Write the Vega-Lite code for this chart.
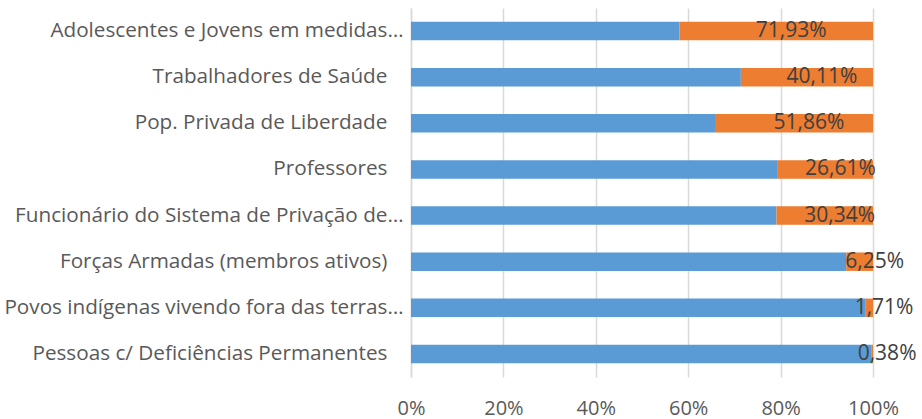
{
  "$schema": "https://vega.github.io/schema/vega-lite/v6.json",
  "width": 462,
  "height": 369,
  "autosize": {"type": "none"},
  "padding": {"left": 411, "top": 8, "right": 49, "bottom": 42},
  "background": "white",
  "config": {"view": {"stroke": null}, "font": "Open Sans"},
  "data": {"values": [
    {"grupo": "Adolescentes e Jovens em medidas…", "serie": "azul", "valor": 58.1, "rotulo": ""},
    {"grupo": "Adolescentes e Jovens em medidas…", "serie": "laranja", "valor": 41.9, "rotulo": "71,93%"},
    {"grupo": "Trabalhadores de Saúde\u00a0\u00a0\u00a0\u200b", "serie": "azul", "valor": 71.4, "rotulo": ""},
    {"grupo": "Trabalhadores de Saúde\u00a0\u00a0\u00a0\u200b", "serie": "laranja", "valor": 28.6, "rotulo": "40,11%"},
    {"grupo": "Pop. Privada de Liberdade\u00a0\u00a0\u00a0\u200b", "serie": "azul", "valor": 65.8, "rotulo": ""},
    {"grupo": "Pop. Privada de Liberdade\u00a0\u00a0\u00a0\u200b", "serie": "laranja", "valor": 34.2, "rotulo": "51,86%"},
    {"grupo": "Professores\u00a0\u00a0\u00a0\u200b", "serie": "azul", "valor": 79.4, "rotulo": ""},
    {"grupo": "Professores\u00a0\u00a0\u00a0\u200b", "serie": "laranja", "valor": 20.6, "rotulo": "26,61%"},
    {"grupo": "Funcionário do Sistema de Privação de…", "serie": "azul", "valor": 79.1, "rotulo": ""},
    {"grupo": "Funcionário do Sistema de Privação de…", "serie": "laranja", "valor": 20.9, "rotulo": "30,34%"},
    {"grupo": "Forças Armadas (membros ativos)\u00a0\u00a0\u00a0\u200b", "serie": "azul", "valor": 94.2, "rotulo": ""},
    {"grupo": "Forças Armadas (membros ativos)\u00a0\u00a0\u00a0\u200b", "serie": "laranja", "valor": 5.8, "rotulo": "6,25%"},
    {"grupo": "Povos indígenas vivendo fora das terras…", "serie": "azul", "valor": 98.3, "rotulo": ""},
    {"grupo": "Povos indígenas vivendo fora das terras…", "serie": "laranja", "valor": 1.7, "rotulo": "1,71%"},
    {"grupo": "Pessoas c/ Deficiências Permanentes\u00a0\u00a0\u00a0\u200b", "serie": "azul", "valor": 99.6, "rotulo": ""},
    {"grupo": "Pessoas c/ Deficiências Permanentes\u00a0\u00a0\u00a0\u200b", "serie": "laranja", "valor": 0.4, "rotulo": "0,38%"}
  ]},
  "transform": [
    {"stack": "valor", "groupby": ["grupo"], "sort": [{"field": "serie", "order": "ascending"}], "as": ["x0", "x1"]}
  ],
  "encoding": {
    "y": {
      "field": "grupo", "type": "nominal", "sort": null,
      "scale": {"paddingInner": 0.6, "paddingOuter": 0.3},
      "axis": {"title": null, "ticks": false, "domain": true, "domainColor": "#D9D9D9", "domainWidth": 1.5,
               "labelFont": "Open Sans", "labelFontSize": 20.7, "labelColor": "#595959", "labelPadding": 8, "labelLimit": 420}
    }
  },
  "layer": [
    {
      "mark": {"type": "bar"},
      "encoding": {
        "x": {
          "field": "x0", "type": "quantitative",
          "scale": {"domain": [0, 100], "nice": false},
          "axis": {"title": null, "values": [0, 20, 40, 60, 80, 100], "labelExpr": "datum.value + '%'",
                   "ticks": false, "domain": false, "grid": true, "gridColor": "#D9D9D9", "gridWidth": 1.5,
                   "labelFont": "Open Sans", "labelFontSize": 20, "labelColor": "#595959", "labelPadding": 21, "labelFlush": false}
        },
        "x2": {"field": "x1"},
        "color": {"field": "serie", "type": "nominal", "scale": {"domain": ["azul", "laranja"], "range": ["#5B9BD5", "#ED7D31"]}, "legend": null}
      }
    },
    {
      "transform": [
        {"filter": "datum.serie === 'laranja'"},
        {"fold": ["x0", "x1"], "as": ["borda", "pos"]},
        {"aggregate": [{"op": "mean", "field": "pos", "as": "meio"}], "groupby": ["grupo", "rotulo"]}
      ],
      "mark": {"type": "text", "font": "Open Sans", "fontSize": 21, "color": "#404040", "align": "center", "baseline": "middle", "dx": 15},
      "encoding": {
        "x": {"field": "meio", "type": "quantitative"},
        "text": {"field": "rotulo", "type": "nominal"}
      }
    }
  ]
}
